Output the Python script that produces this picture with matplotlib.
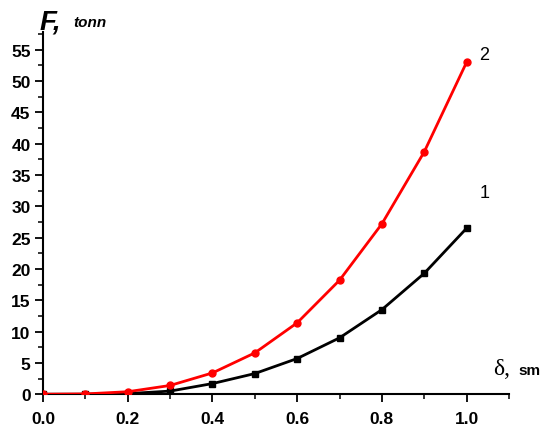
import matplotlib.pyplot as plt
from matplotlib.ticker import MultipleLocator

delta = [0.0, 0.1, 0.2, 0.3, 0.4, 0.5, 0.6, 0.7, 0.8, 0.9, 1.0]
force_1 = [0.0, 0.0, 0.1, 0.5, 1.7, 3.3, 5.7, 9.0, 13.5, 19.3, 26.5]
force_2 = [0.0, 0.05, 0.4, 1.4, 3.4, 6.6, 11.4, 18.2, 27.2, 38.7, 53.0]

plt.rcParams['font.family'] = ['Liberation Sans', 'DejaVu Sans']

fig = plt.figure(figsize=(5.52, 4.31), dpi=100)
ax = fig.add_axes([0.078, 0.083, 0.844, 0.84])

ax.plot(delta, force_1, color='black', lw=2, marker='s', ms=5, zorder=3)
ax.plot(delta, force_2, color='red', lw=2, marker='o', ms=5, zorder=4)

ax.set_xlim(0, 1.1)
ax.set_ylim(0, 57.8)
ax.xaxis.set_major_locator(MultipleLocator(0.2))
ax.xaxis.set_minor_locator(MultipleLocator(0.1))
ax.yaxis.set_major_locator(MultipleLocator(5))
ax.yaxis.set_minor_locator(MultipleLocator(2.5))
ax.xaxis.set_major_formatter(plt.FormatStrFormatter('%.1f'))

for side in ['top', 'right']:
    ax.spines[side].set_visible(False)
for side in ['left', 'bottom']:
    ax.spines[side].set_linewidth(1.5)
ax.tick_params(which='major', direction='out', length=6, width=1.3, labelsize=12.5)
ax.tick_params(which='minor', direction='out', length=3.5, width=1.1)
for lbl in ax.get_xticklabels() + ax.get_yticklabels():
    lbl.set_fontweight('bold')
ax.tick_params(axis='x', pad=6)
ax.tick_params(axis='y', pad=3)

# axis titles
fig.text(0.072, 0.932, 'F,', fontsize=20, fontweight='bold', style='italic')
fig.text(0.133, 0.938, 'tonn', fontsize=11, fontweight='bold', style='italic')
fig.text(0.893, 0.13, 'δ,', fontsize=17, family=['Liberation Serif', 'DejaVu Serif'])
fig.text(0.94, 0.13, 'sm', fontsize=11, fontweight='bold')

# curve labels
ax.text(1.03, 53.5, '2', fontsize=13)
ax.text(1.03, 31.5, '1', fontsize=13)

plt.savefig('out.png', dpi=100)
